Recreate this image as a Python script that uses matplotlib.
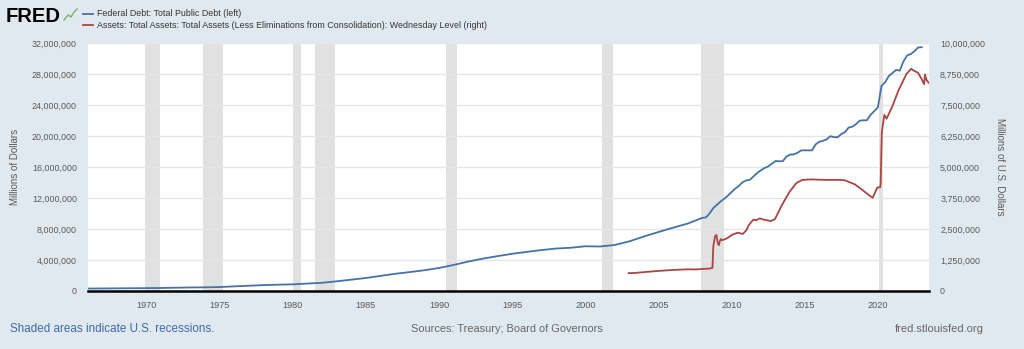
import matplotlib
matplotlib.use("Agg")
import matplotlib.pyplot as plt
import matplotlib.ticker as mticker
import pandas as pd

plt.rcParams['font.family'] = ['Liberation Sans', 'DejaVu Sans']

# ---------------- data ----------------
debt_dates = [f"{y}-01-01" for y in range(1966, 2008)] + [
    f"{y}-{m:02d}-01" for y in range(2008, 2023) for m in (1, 4, 7, 10)] + ["2023-01-01"]
debt_values = [
    320000, 326000, 345000, 355000, 370000, 390000, 425000, 455000, 475000, 510000,
    600000, 680000, 760000, 815000, 860000, 960000, 1060000, 1250000, 1460000, 1680000,
    1950000, 2220000, 2440000, 2680000, 2970000, 3360000, 3800000, 4180000, 4500000, 4800000,
    5050000, 5280000, 5480000, 5580000, 5770000, 5740000, 5940000, 6400000, 7030000, 7610000,
    8170000, 8700000,
    9440000, 9490000, 10020000, 10700000,
    11130000, 11550000, 11900000, 12310000,
    12770000, 13200000, 13560000, 14030000,
    14270000, 14340000, 14790000, 15220000,
    15580000, 15860000, 16070000, 16430000,
    16770000, 16740000, 16740000, 17350000,
    17600000, 17630000, 17820000, 18140000,
    18150000, 18150000, 18150000, 18920000,
    19260000, 19380000, 19570000, 19980000,
    19850000, 19840000, 20240000, 20490000,
    21090000, 21200000, 21520000, 21970000,
    22030000, 22020000, 22720000, 23200000,
    23690000, 26480000, 26940000, 27750000,
    28130000, 28530000, 28430000, 29620000,
    30400000, 30570000, 30930000, 31420000,
    31460000,
]

assets_dates = [
    "2002-12-18", "2003-06-01", "2004-01-01", "2005-01-01", "2006-01-01", "2007-01-01",
    "2007-08-01", "2008-01-01", "2008-06-01", "2008-09-10", "2008-10-01", "2008-10-22",
    "2008-11-12", "2008-12-17", "2009-01-07", "2009-01-28", "2009-02-18", "2009-03-11",
    "2009-04-08", "2009-05-06", "2009-06-17", "2009-08-05", "2009-10-07", "2009-12-16",
    "2010-03-03", "2010-06-02", "2010-10-06", "2011-01-05", "2011-03-02", "2011-06-29",
    "2011-09-07", "2011-12-07", "2012-03-07", "2012-06-06", "2012-09-05", "2012-12-19",
    "2013-06-05", "2013-12-18", "2014-06-04", "2014-10-29", "2015-06-03", "2016-06-01",
    "2017-06-07", "2017-10-04", "2018-06-06", "2018-12-05", "2019-06-05", "2019-08-28",
    "2019-10-02", "2019-12-18", "2020-02-26", "2020-03-11", "2020-04-08", "2020-06-10",
    "2020-08-05", "2020-12-16", "2021-06-02", "2021-12-15", "2022-04-13", "2022-06-01",
    "2022-09-28", "2022-12-28", "2023-03-01", "2023-03-22", "2023-05-03", "2023-06-28",
]
assets_values = [
    720000, 730000, 760000, 810000, 850000, 875000,
    870000, 890000, 900000, 930000, 1800000, 2000000,
    2200000, 2260000, 2050000, 1900000, 1850000, 2000000,
    2100000, 2050000, 2070000, 2100000, 2150000, 2240000,
    2300000, 2350000, 2300000, 2450000, 2650000, 2880000,
    2850000, 2930000, 2880000, 2850000, 2820000, 2900000,
    3450000, 4000000, 4350000, 4480000, 4500000, 4480000,
    4480000, 4460000, 4300000, 4080000, 3850000, 3760000,
    3900000, 4170000, 4180000, 4300000, 6400000, 7100000,
    6950000, 7400000, 8100000, 8750000, 8960000, 8900000,
    8800000, 8550000, 8340000, 8730000, 8500000, 8390000,
]

recessions = [
    ("1969-12-01", "1970-11-30"), ("1973-11-01", "1975-03-31"),
    ("1980-01-01", "1980-07-31"), ("1981-07-01", "1982-11-30"),
    ("1990-07-01", "1991-03-31"), ("2001-03-01", "2001-11-30"),
    ("2007-12-01", "2009-06-30"), ("2020-02-01", "2020-04-30"),
]

left_ticks = list(range(0, 32000001, 4000000))
right_ticks = list(range(0, 10000001, 1250000))

debt_label = "Federal Debt: Total Public Debt (left)"
assets_label = ("Assets: Total Assets: Total Assets (Less Eliminations from Consolidation): "
                "Wednesday Level (right)")

# ---------------- figure ----------------
bg = "#e1e9f0"
blue = "#4572a7"
red = "#aa4643"
tick_color = "#595959"

W, H = 1024, 349
fig = plt.figure(figsize=(W / 100, H / 100), dpi=100, facecolor=bg)
ax = fig.add_axes([88 / W, 58 / H, 841 / W, 248 / H])
ax.set_facecolor("white")
ax2 = ax.twinx()

for s, e in recessions:
    ax.axvspan(pd.Timestamp(s), pd.Timestamp(e), color="#e1e1e1", lw=0, zorder=0)

ax.plot(pd.to_datetime(debt_dates), debt_values, color=blue, lw=1.3, zorder=3)
ax2.plot(pd.to_datetime(assets_dates), assets_values, color=red, lw=1.3, zorder=3)

ax.set_xlim(pd.Timestamp("1966-01-01"), pd.Timestamp("2023-07-01"))
ax.set_ylim(0, 32000000)
ax2.set_ylim(0, 10000000)

ax.set_yticks(left_ticks)
ax2.set_yticks(right_ticks)
fmt = mticker.FuncFormatter(lambda v, p: f"{int(v):,}")
ax.yaxis.set_major_formatter(fmt)
ax2.yaxis.set_major_formatter(fmt)

ax.xaxis.set_major_locator(matplotlib.dates.YearLocator(5))
ax.xaxis.set_major_formatter(matplotlib.dates.DateFormatter("%Y"))

ax.grid(axis="y", color="#e6e6e6", lw=1, zorder=1)
ax.set_axisbelow(True)

for a in (ax, ax2):
    for side in ("top", "left", "right", "bottom"):
        a.spines[side].set_visible(False)
ax.spines["bottom"].set_visible(True)
ax.spines["bottom"].set_color("#000000")
ax.spines["bottom"].set_linewidth(1.8)
ax.spines["bottom"].set_zorder(5)

ax.tick_params(axis="y", length=0, labelsize=6.4, labelcolor=tick_color, pad=8)
ax2.tick_params(axis="y", length=0, labelsize=6.4, labelcolor=tick_color, pad=8)
ax.tick_params(axis="x", length=0, labelsize=6.6, labelcolor=tick_color, pad=7)

fig.text(15 / W, 1 - 167 / H, "Millions of Dollars", fontsize=7, color=tick_color,
         rotation=90, va="center", ha="center")
fig.text(1000 / W, 1 - 167 / H, "Millions of U.S. Dollars", fontsize=7, color=tick_color,
         rotation=270, va="center", ha="center")

# header: logo and legend
fig.text(6 / W, 1 - 16 / H, "FRED", fontsize=14.5, fontweight="bold",
         color="#000000", va="center", ha="left")
fig.add_artist(plt.Line2D([64 / W, 68 / W, 71 / W, 74 / W, 77 / W],
                          [1 - 20 / H, 1 - 15 / H, 1 - 17 / H, 1 - 12 / H, 1 - 9 / H],
                          color="#7fae64", lw=1))
fig.add_artist(plt.Line2D([83 / W, 93 / W], [1 - 14 / H, 1 - 14 / H],
                          color=blue, lw=1.3))
fig.add_artist(plt.Line2D([83 / W, 93 / W], [1 - 25 / H, 1 - 25 / H],
                          color=red, lw=1.3))
fig.text(97 / W, 1 - 14 / H, debt_label, fontsize=6.4, color="#333333", va="center")
fig.text(97 / W, 1 - 25 / H, assets_label, fontsize=6.4, color="#333333", va="center")

# footer
fig.text(10 / W, 1 - 329 / H, "Shaded areas indicate U.S. recessions.",
         fontsize=8.4, color="#3d6aa6", va="center")
fig.text(507 / W, 1 - 329 / H, "Sources: Treasury; Board of Governors",
         fontsize=7.9, color="#666666", va="center", ha="center")
fig.text(984 / W, 1 - 329 / H, "fred.stlouisfed.org",
         fontsize=8, color="#666666", va="center", ha="right")

fig.savefig("out.png", dpi=100, facecolor=bg)
